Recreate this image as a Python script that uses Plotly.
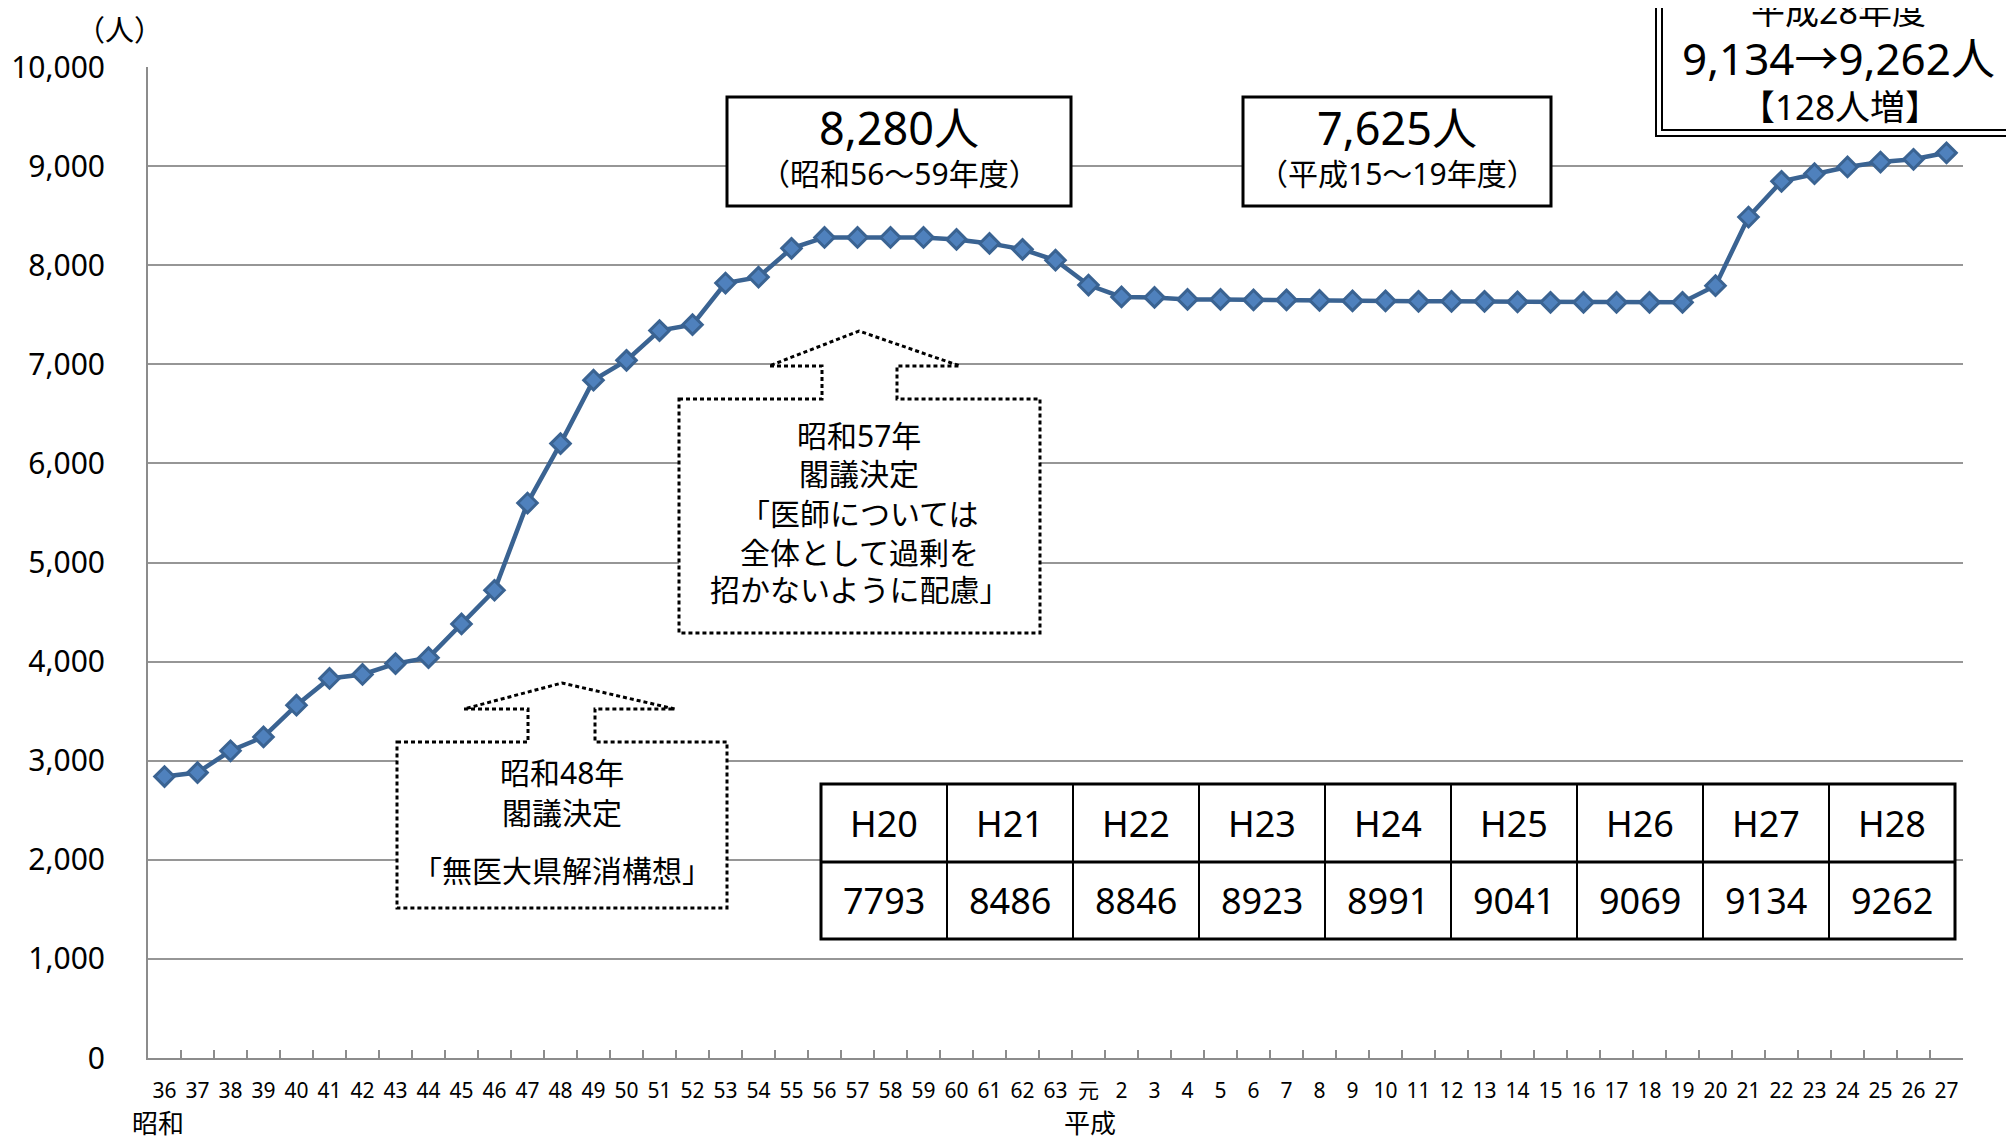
import plotly.graph_objects as go

# ---------------- data ----------------
showa_labels = [str(y) for y in range(36, 64)]
heisei_labels = ["元"] + [str(y) for y in range(2, 28)]
categories = showa_labels + heisei_labels

showa_values = [2840, 2880, 3100, 3240, 3560, 3830, 3870, 3980, 4040, 4380,
                4720, 5600, 6200, 6840, 7040, 7340, 7400, 7820, 7880, 8170,
                8280, 8280, 8280, 8280, 8260, 8220, 8160, 8050]
heisei_values = [7800, 7680, 7675, 7655, 7655, 7650, 7650, 7645, 7640, 7640,
                 7635, 7635, 7635, 7630, 7625, 7625, 7625, 7625, 7625,
                 7793, 8486, 8846, 8923, 8991, 9041, 9069, 9134]
values = showa_values + heisei_values

table_years = ["H20", "H21", "H22", "H23", "H24", "H25", "H26", "H27", "H28"]
table_values = [7793, 8486, 8846, 8923, 8991, 9041, 9069, 9134, 9262]

y_ticks = list(range(0, 10001, 1000))

# ---------------- layout helpers ----------------
# page body has an 8px margin, so the figure is drawn 8px in from the corner
OFF = 8
W, H = 2014 - OFF, 1141 - OFF
L, R, T, B = 148, 1963, 67, 1058      # plot area in page pixels
FONT = "Noto Sans, Noto Sans CJK JP, sans-serif"


def px(x):
    return (x - L) / (R - L)


def py(y):
    return (B - y) / (B - T)


fig = go.Figure()
fig.add_trace(go.Scatter(
    x=categories, y=values, mode="lines+markers",
    line=dict(color="#3a6392", width=4.5),
    marker=dict(symbol="diamond", size=15, color="#4f81bd",
                line=dict(color="#3a6392", width=3)),
    showlegend=False, hoverinfo="x+y", cliponaxis=False,
))

shapes = []
annotations = []


def text(x, y, s, size, xanchor="center"):
    annotations.append(dict(
        x=px(x), y=py(y), xref="paper", yref="paper", text=s,
        showarrow=False, xanchor=xanchor, yanchor="middle",
        font=dict(family=FONT, size=size, color="black")))


def rect(x0, y0, x1, y1, width=3, fill="white", dash=None):
    shapes.append(dict(type="rect", xref="paper", yref="paper",
                       x0=px(x0), x1=px(x1), y0=py(y1), y1=py(y0),
                       line=dict(color="black", width=width, dash=dash),
                       fillcolor=fill, layer="above"))


def line(x0, y0, x1, y1, width=2):
    shapes.append(dict(type="line", xref="paper", yref="paper",
                       x0=px(x0), x1=px(x1), y0=py(y0), y1=py(y1),
                       line=dict(color="black", width=width), layer="above"))


def callout(bx0, by0, bx1, by1, sx0, sx1, sy, ax0, ax1, apx, apy):
    pts = [(bx0, by0), (sx0, by0), (sx0, sy), (ax0, sy), (apx, apy),
           (ax1, sy), (sx1, sy), (sx1, by0), (bx1, by0), (bx1, by1),
           (bx0, by1)]
    path = "M " + " L ".join(f"{px(a):.5f},{py(b):.5f}" for a, b in pts) + " Z"
    shapes.append(dict(type="path", xref="paper", yref="paper", path=path,
                       line=dict(color="black", width=3, dash="4px,3px"),
                       fillcolor="white", layer="above"))


# Highlight boxes
rect(727, 97, 1071, 206)
text(899, 128, "8,280人", 45)
text(899, 173, "（昭和56〜59年度）", 30)

rect(1243, 97, 1551, 206)
text(1397, 128, "7,625人", 45)
text(1397, 173, "（平成15〜19年度）", 30)

# Top-right double box
rect(1656, -20, 2040, 136, width=2)
rect(1662, -20, 2040, 130, width=2, fill="rgba(0,0,0,0)")
text(1838, 11, "平成28年度", 34)
text(1838, 58, "9,134→9,262人", 44)
text(1840, 106, "【128人増】", 35)

# Callout: 昭和57年
callout(679, 399, 1040, 633, 822, 897, 366, 769, 960, 859, 331)
for yy, s in zip([435, 474, 513, 552, 589],
                 ["昭和57年", "閣議決定", "「医師については", "全体として過剰を", "招かないように配慮」"]):
    text(859, yy, s, 30)

# Callout: 昭和48年
callout(397, 742, 727, 908, 528, 595, 709, 464, 675, 562, 683)
for yy, s in zip([773, 812, 870], ["昭和48年", "閣議決定", "「無医大県解消構想」"]):
    text(562, yy, s, 30)

# Table
tx0, tw = 821, 126
ty0, ty1, ty2 = 784, 862, 939
ncol = len(table_years)
rect(tx0, ty0, tx0 + tw * ncol, ty2, width=3)
line(tx0, ty1, tx0 + tw * ncol, ty1, width=3)
for i in range(1, ncol):
    line(tx0 + tw * i, ty0, tx0 + tw * i, ty2, width=2)
for i, (yr, v) in enumerate(zip(table_years, table_values)):
    cx = tx0 + tw * i + tw / 2
    text(cx, (ty0 + ty1) / 2, yr, 36)
    text(cx, (ty1 + ty2) / 2, str(v), 36)

# Axis captions
text(119, 30, "（人）", 29)
text(158, 1123, "昭和", 26)
text(1090, 1123, "平成", 26)

fig.update_layout(
    width=W, height=H,
    margin=dict(l=L - OFF, r=W - (R - OFF), t=T - OFF, b=H - (B - OFF),
                pad=0, autoexpand=False),
    paper_bgcolor="white", plot_bgcolor="white",
    font=dict(family=FONT, color="black"),
    shapes=shapes, annotations=annotations,
    xaxis=dict(type="category", range=[-0.5, len(categories) - 0.5],
               showline=True, linecolor="#8c8c8c", linewidth=2,
               ticks="inside", ticklen=8, tickwidth=1.5, tickcolor="#8c8c8c",
               tickson="boundaries", showgrid=False, zeroline=False,
               tickangle=0, automargin=False,
               tickfont=dict(size=21, color="black", family=FONT),
               ticklabelstandoff=13, fixedrange=True),
    yaxis=dict(range=[0, 10000], tickvals=y_ticks, tickformat=",",
               showgrid=True, gridcolor="#969696", gridwidth=2,
               showline=True, linecolor="#8c8c8c", linewidth=2,
               ticks="", zeroline=False, automargin=False,
               tickfont=dict(size=30, color="black", family=FONT),
               ticklabelstandoff=35, fixedrange=True),
)

fig.write_html("out.html")
